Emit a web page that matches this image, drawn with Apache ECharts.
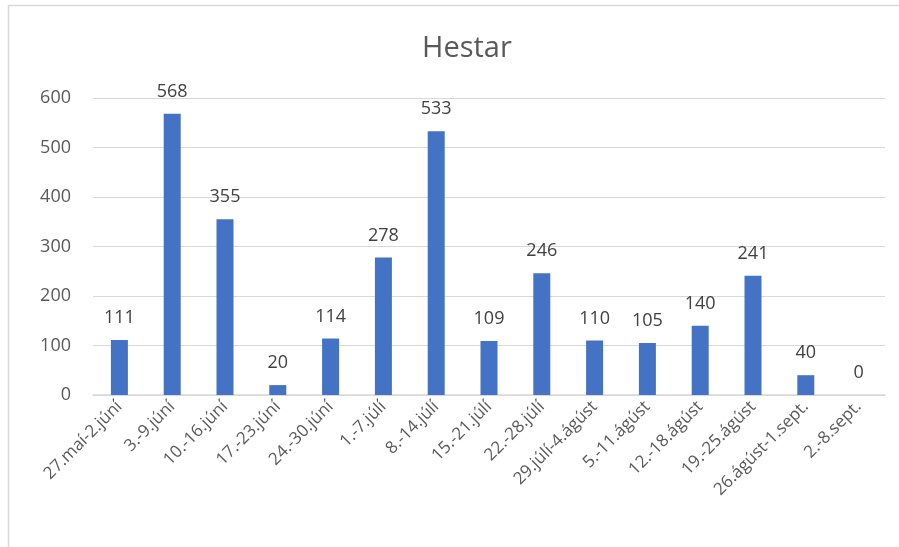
<!DOCTYPE html>
<html>
<head>
<meta charset="utf-8">
<script src="https://cdn.jsdelivr.net/npm/echarts@6/dist/echarts.min.js"></script>
<style>
  html, body { margin: 0; padding: 0; background: #fff; }
  #chart { width: 899px; height: 547px; }
</style>
</head>
<body>
<div id="chart"></div>
<script>
// vikur
const weeks = [
  '27.maí-2.júní', '3.-9.júní', '10.-16.júní', '17.-23.júní', '24.-30.júní',
  '1.-7.júlí', '8.-14.júlí', '15.-21.júlí', '22.-28.júlí', '29.júlí-4.ágúst',
  '5.-11.ágúst', '12.-18.ágúst', '19.-25.ágúst', '26.ágúst-1.sept.', '2.-8.sept.'
]
// fjöldi hesta
const hestar = [111, 568, 355, 20, 114, 278, 533, 109, 246, 110, 105, 140, 241, 40, 0]
const yTicks = { min: 0, max: 600, interval: 100 }

const font = 'Open Sans'
const chart = echarts.init(document.getElementById('chart'))
const option = {
  animation: false,
  title: {
    text: 'Hestar',
    left: 417,
    top: 29,
    textStyle: { fontFamily: font, fontSize: 29, fontWeight: 'normal', color: '#595959' }
  },
  graphic: [{
    type: 'rect',
    shape: { x: 8.5, y: 5.5, width: 900, height: 560 },
    style: { fill: 'none', stroke: '#d9d9d9', lineWidth: 1.5 }
  }],
  grid: { left: 93, right: 14, top: 98, bottom: 152 },
  xAxis: {
    type: 'category',
    data: weeks,
    axisLine: { lineStyle: { color: '#d9d9d9', width: 1.5 } },
    axisTick: { show: false },
    axisLabel: {
      rotate: 45,
      interval: 0,
      margin: 9,
      fontFamily: font,
      fontSize: 17,
      color: '#595959'
    }
  },
  yAxis: {
    type: 'value',
    min: yTicks.min,
    max: yTicks.max,
    interval: yTicks.interval,
    axisLine: { show: false },
    axisTick: { show: false },
    splitLine: { lineStyle: { color: '#d9d9d9', width: 1 } },
    axisLabel: { fontFamily: font, fontSize: 18, color: '#595959', margin: 22 }
  },
  series: [{
    type: 'bar',
    data: hestar,
    barWidth: 17,
    itemStyle: { color: '#4472c4' },
    label: {
      show: true,
      position: 'top',
      distance: 13,
      fontFamily: font,
      fontSize: 18,
      color: '#404040'
    }
  }]
}
chart.setOption(option)
</script>
</body>
</html>
